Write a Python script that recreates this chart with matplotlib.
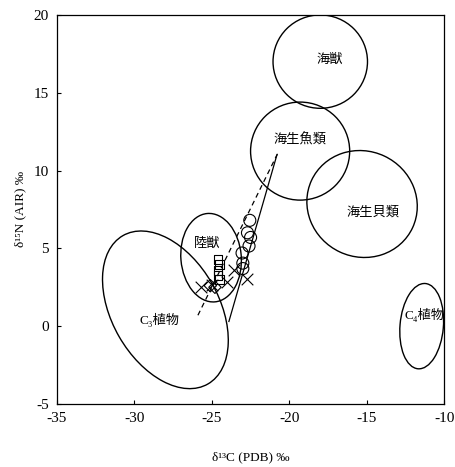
import matplotlib.pyplot as plt
from matplotlib.patches import Ellipse

plt.rcParams['font.family'] = ['Liberation Serif', 'Noto Sans CJK JP', 'DejaVu Sans']
plt.rcParams['font.size'] = 10
plt.rcParams['axes.unicode_minus'] = False

# 食料資源の範囲 (中心x, 中心y, 幅, 高さ, 角度)
groups = ['海獣', '海生魚類', '海生貝類', 'C₄植物', 'C₃植物', '陸獣']
ell_cx = [-18.0, -19.3, -15.3, -11.45, -28.0, -25.05]
ell_cy = [17.0, 11.25, 7.85, 0.0, 1.05, 4.4]
ell_w = [6.1, 6.4, 7.2, 2.8, 6.9, 3.9]
ell_h = [6.0, 6.3, 6.8, 5.5, 11.0, 5.7]
ell_ang = [0, 0, -25, -5, 30, 5]
label_x = [-17.4, -19.3, -14.6, -11.3, -28.4, -25.3]
label_y = [17.1, 12.0, 7.3, 0.7, 0.4, 5.3]

# 試料
circ_x = [-22.55, -22.7, -22.5, -22.6, -23.05, -23.0, -23.0]
circ_y = [6.8, 6.0, 5.7, 5.15, 4.7, 4.05, 3.7]
sq_x = [-24.6, -24.5, -24.6, -24.6, -24.5]
sq_y = [4.3, 3.95, 3.6, 3.25, 3.0]
dia_x = [-24.8, -25.1]
dia_y = [2.5, 2.6]
cross_x = [-25.0, -25.7, -24.0, -22.75, -23.6]
cross_y = [2.65, 2.5, 2.85, 3.0, 3.6]

# 回帰直線
dash_x = [-25.9, -20.7]
dash_y = [0.7, 11.2]
solid_x = [-23.9, -20.8]
solid_y = [0.3, 11.0]

fig = plt.figure(figsize=(4.56, 4.67), dpi=100)
ax = fig.add_axes([0.125, 0.135, 0.849, 0.833])

for i in range(len(groups)):
    ax.add_patch(Ellipse((ell_cx[i], ell_cy[i]), ell_w[i], ell_h[i], angle=ell_ang[i],
                         fill=False, edgecolor='black', linewidth=1.0))
    ax.text(label_x[i], label_y[i], groups[i], ha='center', va='center', fontsize=9.5)

ax.plot(dash_x, dash_y, color='black', linestyle=(0, (4, 3)), linewidth=0.9)
ax.plot(solid_x, solid_y, color='black', linestyle='-', linewidth=0.9)

ax.scatter(circ_x, circ_y, marker='o', s=75, facecolors='none', edgecolors='black', linewidths=0.8)
ax.scatter(sq_x, sq_y, marker='s', s=40, facecolors='none', edgecolors='black', linewidths=0.8)
ax.scatter(dia_x, dia_y, marker='D', s=40, facecolors='none', edgecolors='black', linewidths=0.8)
ax.scatter(cross_x, cross_y, marker='x', s=70, color='black', linewidths=0.8)

ax.set_xlim(-35, -10)
ax.set_ylim(-5, 20)
ax.set_xticks(range(-35, -9, 5))
ax.set_yticks(range(-5, 21, 5))
ax.tick_params(direction='in', length=3, width=0.8, labelsize=11, pad=6)
for s in ax.spines.values():
    s.set_linewidth(0.9)

ax.set_xlabel('δ¹³C (PDB) ‰', fontsize=9.5, labelpad=19)
ax.set_ylabel('δ¹⁵N (AIR) ‰', fontsize=9.5, labelpad=5)

plt.savefig('out.png', dpi=100)
